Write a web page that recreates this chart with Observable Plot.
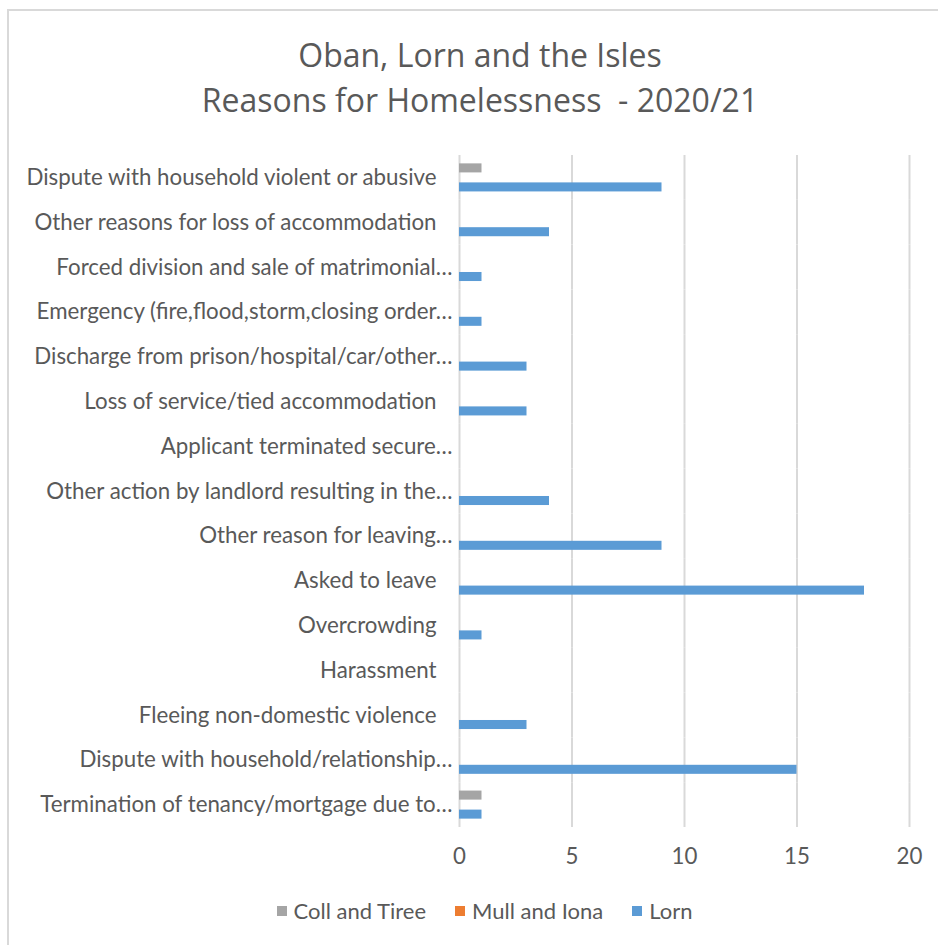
<!DOCTYPE html>
<html>
<head>
<meta charset="utf-8">
<script src="https://cdn.jsdelivr.net/npm/d3@7"></script>
<script src="https://cdn.jsdelivr.net/npm/@observablehq/plot@0.6"></script>
<style>
  html, body { margin: 0; padding: 0; background: #fff; }
  #frame { position: absolute; left: 7px; top: 9px; width: 960px; height: 960px; border: 2px solid #d9d9d9; box-sizing: border-box; }
  #title { position: absolute; left: 0; width: 960px; top: 32px; text-align: center; font-family: "Open Sans", sans-serif; font-size: 32px; line-height: 45px; color: #595959; }
  #chart { position: absolute; left: 0; top: 130px; }
  #legend { position: absolute; top: 897px; left: 0; width: 938px; display: flex; justify-content: center; gap: 29px; font-family: Lato, sans-serif; font-size: 22px; color: #595959; padding-left: 31px; box-sizing: border-box; }
  #legend span.item { display: inline-flex; align-items: center; gap: 7px; }
  #legend span.sw { display: inline-block; width: 10px; height: 10px; }
</style>
</head>
<body>
<div id="frame"></div>
<div id="title">Oban, Lorn and the Isles<br>Reasons for Homelessness&nbsp; - 2020/21</div>
<div id="chart"></div>
<div id="legend"></div>
<script>
const categories = [
  "Dispute with household violent or abusive",
  "Other reasons for loss of accommodation",
  "Forced division and sale of matrimonial…",
  "Emergency (fire,flood,storm,closing order…",
  "Discharge from prison/hospital/car/other…",
  "Loss of service/tied accommodation",
  "Applicant terminated secure…",
  "Other action by landlord resulting in the…",
  "Other reason for leaving…",
  "Asked to leave",
  "Overcrowding",
  "Harassment",
  "Fleeing non-domestic violence",
  "Dispute with household/relationship…",
  "Termination of tenancy/mortgage due to…"
];
const seriesNames = ["Coll and Tiree", "Mull and Iona", "Lorn"];
const seriesColors = ["#a5a5a5", "#ed7d31", "#5b9bd5"];
const collTiree = [1, 0, 0, 0, 0, 0, 0, 0, 0, 0, 0, 0, 0, 0, 1];
const mullIona  = [0, 0, 0, 0, 0, 0, 0, 0, 0, 0, 0, 0, 0, 0, 0];
const lorn      = [9, 4, 1, 1, 3, 3, 0, 4, 9, 18, 1, 0, 3, 15, 1];
const xTicks = [0, 5, 10, 15, 20];

const seriesValues = [collTiree, mullIona, lorn];
const rows = [];
categories.forEach((c, i) => {
  seriesNames.forEach((s, j) => {
    rows.push({category: c, series: s, value: seriesValues[j][i]});
  });
});

const truncated = categories.filter(c => c.endsWith("…"));
const full = categories.filter(c => !c.endsWith("…"));

const plot = Plot.plot({
  width: 938,
  height: 747,
  marginLeft: 459,
  marginRight: 29,
  marginTop: 25,
  marginBottom: 50,
  style: {fontFamily: "Lato, sans-serif", fontSize: "22.3px", color: "#595959", background: "transparent", overflow: "visible"},
  x: {domain: [0, 20]},
  y: {domain: seriesNames, paddingInner: 0.05, paddingOuter: 0.88, round: false, axis: null},
  fy: {domain: categories, padding: 0, round: false},
  color: {domain: seriesNames, range: seriesColors},
  marks: [
    Plot.gridX(xTicks, {stroke: "#d9d9d9", strokeOpacity: 1, strokeWidth: 2}),
    Plot.barX(rows, {fy: "category", y: "series", x: "value", fill: "series"}),
    Plot.axisX({ticks: xTicks, tickSize: 0, tickPadding: 21, label: null, fill: "#595959", facetAnchor: "bottom"}),
    Plot.axisFy({ticks: truncated, anchor: "left", tickSize: 0, tickPadding: 7, label: null, fill: "#595959"}),
    Plot.axisFy({ticks: full, anchor: "left", tickSize: 0, tickPadding: 23, label: null, fill: "#595959"})
  ]
});
document.getElementById("chart").appendChild(plot);

const legend = document.getElementById("legend");
seriesNames.forEach((s, i) => {
  const item = document.createElement("span");
  item.className = "item";
  const sw = document.createElement("span");
  sw.className = "sw";
  sw.style.background = seriesColors[i];
  item.appendChild(sw);
  item.appendChild(document.createTextNode(s));
  legend.appendChild(item);
});
</script>
</body>
</html>
